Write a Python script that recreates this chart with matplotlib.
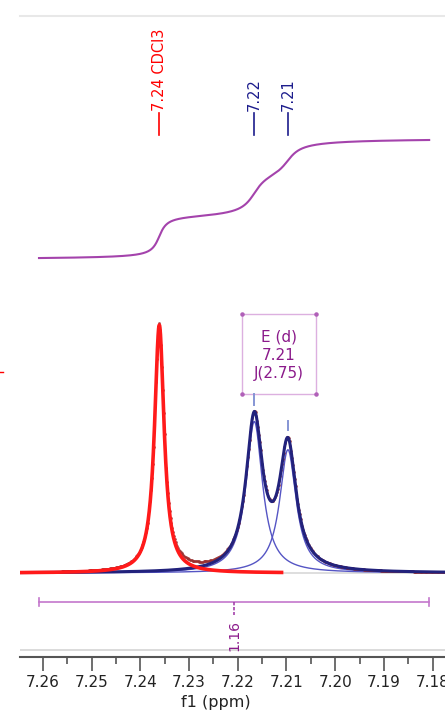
import numpy as np
import matplotlib.pyplot as plt
from matplotlib.patches import Rectangle
from matplotlib.lines import Line2D
from matplotlib.ticker import MultipleLocator, FixedLocator

plt.rcParams['font.family'] = ['DejaVu Sans']

# peaks picked on the spectrum (ppm)
peak_labels = ["7.24 CDCl3", "7.22", "7.21"]
peak_ppm = [7.2361, 7.2166, 7.2097]
peak_height = [1.0, 0.611, 0.497]
peak_hwhm = [0.00119, 0.00205, 0.00205]
peak_colors = ['#ff0000', '#1c1c8c', '#1c1c8c']

# multiplet annotation
multiplet_name = "E (d)"
multiplet_shift = "7.21"
multiplet_j = "J(2.75)"

# integral region
integral_from = 7.2608
integral_to = 7.1807
integral_value = "1.16"

xticks = [7.26, 7.25, 7.24, 7.23, 7.22, 7.21, 7.20, 7.19, 7.18]
xmin, xmax = 7.2647, 7.17745


def lorentz(x, c, h, w):
    return h / (1 + ((x - c) / w) ** 2)


fig = plt.figure(figsize=(4.45, 7.1), dpi=100)
ax = fig.add_axes([20 / 445, 1 - 657 / 710, 425 / 445, 641 / 710])
ax.set_xlim(xmin, xmax)
ax.set_ylim(-0.3387, 2.246)

x = np.linspace(xmin, xmax, 2500)
red = lorentz(x, peak_ppm[0], peak_height[0], peak_hwhm[0])
b1 = lorentz(x, peak_ppm[1], peak_height[1], peak_hwhm[1])
b2 = lorentz(x, peak_ppm[2], peak_height[2], peak_hwhm[2])
total = red + b1 + b2

# baseline and fitted lines
ax.plot([7.2110, xmax], [0, 0], color='#d8d8d8', lw=1.2, zorder=1)
ax.plot(x, b1, color='#5555c4', lw=1.0, zorder=3)
ax.plot(x, b2, color='#5555c4', lw=1.0, zorder=3)
ax.plot(x[::5], total[::5], '.', ms=2.2, color='#9a3030', alpha=0.7, zorder=3.5)
ax.plot(x, b1 + b2, color='#22227c', lw=2.2, zorder=4)
mask = x >= 7.2110
ax.plot(x[mask], red[mask], color='#ff1a1a', lw=2.6, zorder=5)

# integral curve
xi = np.linspace(integral_from, integral_to, 1500)
spec = (lorentz(xi, peak_ppm[0], peak_height[0], peak_hwhm[0])
        + lorentz(xi, peak_ppm[1], peak_height[1], peak_hwhm[1])
        + lorentz(xi, peak_ppm[2], peak_height[2], peak_hwhm[2]))
cum = np.cumsum(spec)
cum = (cum - cum[0]) / (cum[-1] - cum[0])
ax.plot(xi, 1.270 + 0.476 * cum, color='#a443ac', lw=1.5, zorder=4)

# peak labels
for label, ppm, col in zip(peak_labels, peak_ppm, peak_colors):
    ax.plot([ppm, ppm], [1.766, 1.855], color=col, lw=1.2)
    ax.text(ppm, 1.862, label, rotation=90, ha='center', va='bottom',
            color=col, fontsize=10.5)

# multiplet box
bx0, bx1, by0, by1 = 7.20394, 7.21914, 0.722, 1.044
ax.add_patch(Rectangle((bx0, by0), bx1 - bx0, by1 - by0, fill=False,
                       edgecolor='#dcb0e0', lw=1.0, zorder=6))
ax.scatter([bx0, bx0, bx1, bx1], [by0, by1, by0, by1], s=5,
           color='#b060b8', zorder=7)
ax.text((bx0 + bx1) / 2, 0.879,
        multiplet_name + "\n" + multiplet_shift + "\n" + multiplet_j,
        ha='center', va='center', fontsize=11, color='#8b1a8b',
        linespacing=1.25, zorder=7)
ax.plot([peak_ppm[1]] * 2, [by0, 0.676], color='#8595d4', lw=1.4, zorder=6)
ax.plot([peak_ppm[2]] * 2, [0.613, 0.575], color='#8595d4', lw=1.4, zorder=6)

# integral bar
ic = (integral_from + integral_to) / 2
ax.plot([integral_from, integral_to], [-0.117, -0.117], color='#c477cc', lw=1.2)
for xe in (integral_from, integral_to):
    ax.plot([xe, xe], [-0.101, -0.133], color='#c477cc', lw=1.2)
ax.plot([ic, ic], [-0.117, -0.168], color='#a443ac', lw=1.2, ls=(0, (2, 1)))
ax.text(ic, -0.252, integral_value, rotation=90, ha='center', va='center',
        color='#8b1a8b', fontsize=10)

# frame
ax.axhline(-0.3105, color='#d4d4d4', lw=1.2)
for s in ('left', 'right'):
    ax.spines[s].set_visible(False)
ax.spines['top'].set_color('#e8e8e8')
ax.spines['top'].set_linewidth(1.5)
ax.spines['bottom'].set_color('#555555')
ax.spines['bottom'].set_linewidth(1.5)
ax.set_yticks([])
ax.xaxis.set_major_locator(FixedLocator(xticks))
ax.set_xticklabels(['%.2f' % t for t in xticks])
ax.xaxis.set_minor_locator(MultipleLocator(0.005))
ax.tick_params(axis='x', which='major', direction='out', length=10,
               width=1.2, color='#555555', labelsize=11, pad=3,
               labelcolor='#222222')
ax.tick_params(axis='x', which='minor', direction='out', length=5,
               width=1.2, color='#555555')

fig.text(216 / 445, 1 - 703 / 710, "f1 (ppm)", ha='center', va='center',
         fontsize=11.5, color='#222222')
fig.add_artist(Line2D([0, 3 / 445], [1 - 372 / 710] * 2, color='red', lw=1))

fig.savefig('out.png', dpi=100)
